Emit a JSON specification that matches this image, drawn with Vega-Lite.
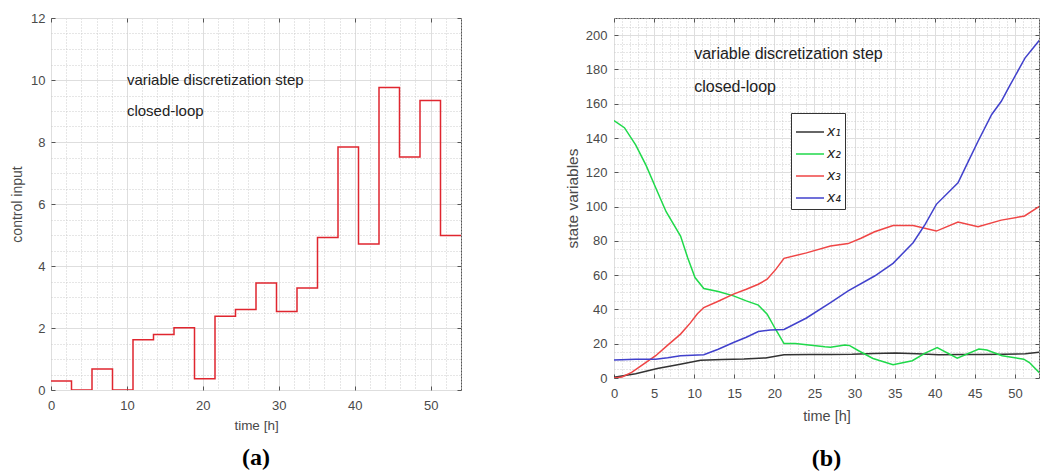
{
  "$schema": "https://vega.github.io/schema/vega-lite/v6.json",
  "background": "white",
  "padding": {"left": 10, "top": 11, "right": 0, "bottom": 0},
  "spacing": 102,
  "resolve": {"legend": {"color": "independent"}},
  "datasets": {
    "control": [
      {"t": 0, "u": 0.29}, {"t": 2.7, "u": 0}, {"t": 5.4, "u": 0.68}, {"t": 8.1, "u": 0},
      {"t": 10.8, "u": 1.62}, {"t": 13.5, "u": 1.79}, {"t": 16.2, "u": 2.01}, {"t": 18.9, "u": 0.36},
      {"t": 21.6, "u": 2.38}, {"t": 24.3, "u": 2.6}, {"t": 27, "u": 3.45}, {"t": 29.7, "u": 2.53},
      {"t": 32.4, "u": 3.29}, {"t": 35.1, "u": 4.92}, {"t": 37.8, "u": 7.84}, {"t": 40.5, "u": 4.71},
      {"t": 43.2, "u": 9.76}, {"t": 45.9, "u": 7.52}, {"t": 48.6, "u": 9.34}, {"t": 51.3, "u": 4.98},
      {"t": 54, "u": 4.98}
    ],
    "textA": [
      {"t": 10, "v": 10, "label": "variable discretization step"},
      {"t": 10, "v": 9, "label": "closed-loop"}
    ],
    "textB": [
      {"t": 10, "v": 189, "label": "variable discretization step"},
      {"t": 10, "v": 169.5, "label": "closed-loop"}
    ],
    "states": [
      {"s": "x₁", "t": 0, "v": 0.5}, {"s": "x₁", "t": 2.7, "v": 2.5}, {"s": "x₁", "t": 5.4, "v": 5.6}, {"s": "x₁", "t": 8.1, "v": 7.9},
      {"s": "x₁", "t": 10.8, "v": 10.4}, {"s": "x₁", "t": 13.5, "v": 10.8}, {"s": "x₁", "t": 16.2, "v": 11.1}, {"s": "x₁", "t": 18.9, "v": 11.7},
      {"s": "x₁", "t": 21.2, "v": 13.6}, {"s": "x₁", "t": 24.3, "v": 13.7}, {"s": "x₁", "t": 27, "v": 13.7}, {"s": "x₁", "t": 29.7, "v": 13.8},
      {"s": "x₁", "t": 32.4, "v": 14.3}, {"s": "x₁", "t": 35.1, "v": 14.6}, {"s": "x₁", "t": 37.8, "v": 14.2}, {"s": "x₁", "t": 40.5, "v": 13.6},
      {"s": "x₁", "t": 43.2, "v": 13.7}, {"s": "x₁", "t": 45.9, "v": 13.7}, {"s": "x₁", "t": 48.6, "v": 13.8}, {"s": "x₁", "t": 51.3, "v": 14.1},
      {"s": "x₁", "t": 53, "v": 15}, {"s": "x₁", "t": 54, "v": 15.5},

      {"s": "x₂", "t": 0, "v": 150.2}, {"s": "x₂", "t": 1.3, "v": 146}, {"s": "x₂", "t": 2.7, "v": 136}, {"s": "x₂", "t": 4, "v": 124},
      {"s": "x₂", "t": 5.2, "v": 111}, {"s": "x₂", "t": 6.5, "v": 97}, {"s": "x₂", "t": 8.3, "v": 82.8}, {"s": "x₂", "t": 9.2, "v": 70},
      {"s": "x₂", "t": 10.1, "v": 58.6}, {"s": "x₂", "t": 11.2, "v": 52.2}, {"s": "x₂", "t": 13, "v": 50.5}, {"s": "x₂", "t": 14.9, "v": 47.9},
      {"s": "x₂", "t": 16.5, "v": 45}, {"s": "x₂", "t": 18, "v": 42.5}, {"s": "x₂", "t": 19.1, "v": 37.2}, {"s": "x₂", "t": 20.2, "v": 28},
      {"s": "x₂", "t": 21.2, "v": 20.1}, {"s": "x₂", "t": 22.6, "v": 20.1}, {"s": "x₂", "t": 24.3, "v": 19.3}, {"s": "x₂", "t": 26.3, "v": 18.2},
      {"s": "x₂", "t": 27, "v": 17.9}, {"s": "x₂", "t": 28.8, "v": 19.3}, {"s": "x₂", "t": 29.4, "v": 18.9}, {"s": "x₂", "t": 30.5, "v": 15.9},
      {"s": "x₂", "t": 32.3, "v": 11.4}, {"s": "x₂", "t": 34.8, "v": 7.8}, {"s": "x₂", "t": 37.2, "v": 10.1}, {"s": "x₂", "t": 38.8, "v": 14.5},
      {"s": "x₂", "t": 40.3, "v": 17.8}, {"s": "x₂", "t": 42.8, "v": 11.6}, {"s": "x₂", "t": 45.5, "v": 16.9}, {"s": "x₂", "t": 46.5, "v": 16.3},
      {"s": "x₂", "t": 48.4, "v": 13}, {"s": "x₂", "t": 51.1, "v": 11}, {"s": "x₂", "t": 51.8, "v": 9}, {"s": "x₂", "t": 53, "v": 3.3},
      {"s": "x₂", "t": 54, "v": 0.5},

      {"s": "x₃", "t": 0, "v": 0}, {"s": "x₃", "t": 1, "v": 0.6}, {"s": "x₃", "t": 2.2, "v": 3.3}, {"s": "x₃", "t": 3.5, "v": 7.5},
      {"s": "x₃", "t": 5.2, "v": 13}, {"s": "x₃", "t": 6.7, "v": 19.2}, {"s": "x₃", "t": 8.3, "v": 25.6}, {"s": "x₃", "t": 9.5, "v": 32},
      {"s": "x₃", "t": 10.4, "v": 37.5}, {"s": "x₃", "t": 11.2, "v": 41.1}, {"s": "x₃", "t": 13, "v": 44.8}, {"s": "x₃", "t": 14.9, "v": 48.9},
      {"s": "x₃", "t": 16.5, "v": 51.8}, {"s": "x₃", "t": 18, "v": 54.7}, {"s": "x₃", "t": 19.1, "v": 57.6}, {"s": "x₃", "t": 20.2, "v": 63.5},
      {"s": "x₃", "t": 21.2, "v": 69.8}, {"s": "x₃", "t": 24, "v": 73}, {"s": "x₃", "t": 27, "v": 77}, {"s": "x₃", "t": 29.2, "v": 78.4},
      {"s": "x₃", "t": 30.8, "v": 81.5}, {"s": "x₃", "t": 32.5, "v": 85.3}, {"s": "x₃", "t": 34.8, "v": 89}, {"s": "x₃", "t": 37.3, "v": 89},
      {"s": "x₃", "t": 40.2, "v": 85.7}, {"s": "x₃", "t": 42.9, "v": 91}, {"s": "x₃", "t": 45.4, "v": 88.3}, {"s": "x₃", "t": 48.3, "v": 92.1},
      {"s": "x₃", "t": 51.2, "v": 94.5}, {"s": "x₃", "t": 53.1, "v": 100.3}, {"s": "x₃", "t": 54, "v": 103},

      {"s": "x₄", "t": 0, "v": 10.5}, {"s": "x₄", "t": 2.7, "v": 10.9}, {"s": "x₄", "t": 5.2, "v": 10.9}, {"s": "x₄", "t": 6.7, "v": 11.8},
      {"s": "x₄", "t": 8.3, "v": 13}, {"s": "x₄", "t": 11.2, "v": 13.6}, {"s": "x₄", "t": 13, "v": 16.8}, {"s": "x₄", "t": 14.9, "v": 20.7},
      {"s": "x₄", "t": 16.5, "v": 23.8}, {"s": "x₄", "t": 18, "v": 27.1}, {"s": "x₄", "t": 19.5, "v": 28}, {"s": "x₄", "t": 21.2, "v": 28.3},
      {"s": "x₄", "t": 24, "v": 35}, {"s": "x₄", "t": 27, "v": 44}, {"s": "x₄", "t": 29.2, "v": 50.8}, {"s": "x₄", "t": 32.5, "v": 59.5},
      {"s": "x₄", "t": 34.8, "v": 66.9}, {"s": "x₄", "t": 37.3, "v": 78.9}, {"s": "x₄", "t": 38.8, "v": 89.6}, {"s": "x₄", "t": 40.2, "v": 101.3},
      {"s": "x₄", "t": 42.9, "v": 113.9}, {"s": "x₄", "t": 44.2, "v": 126.5}, {"s": "x₄", "t": 45.4, "v": 138.1}, {"s": "x₄", "t": 47.1, "v": 153.7},
      {"s": "x₄", "t": 48.3, "v": 161.4}, {"s": "x₄", "t": 49.2, "v": 169.2}, {"s": "x₄", "t": 51.25, "v": 186.6}, {"s": "x₄", "t": 53.1, "v": 197.3},
      {"s": "x₄", "t": 54, "v": 201}
    ]
  },
  "config": {
    "view": {"stroke": "#555555", "strokeWidth": 1},
    "font": "Liberation Sans",
    "axis": {
      "domain": false,
      "labelFont": "Liberation Sans",
      "titleFont": "Liberation Sans",
      "titleFontWeight": "normal",
      "labelColor": "#4a4a4a",
      "titleColor": "#4a4a4a",
      "labelFontSize": 13,
      "tickColor": "#555555",
      "tickSize": -4,
      "tickWidth": 1,
      "labelFlush": false,
      "labelOverlap": false,
      "format": "~g"
    }
  },
  "hconcat": [
    {
      "width": 410,
      "height": 372,
      "title": {"text": "(a)", "orient": "bottom", "font": "Liberation Serif", "fontSize": 24, "fontWeight": "bold", "color": "#000000", "offset": 14},
      "layer": [
        {
          "data": {"name": "control"},
          "mark": {"type": "line", "interpolate": "step-after", "color": "#e0262f", "strokeWidth": 1.5, "clip": true},
          "encoding": {
            "x": {"field": "t", "type": "quantitative", "scale": {"domain": [0, 54], "nice": false, "zero": false},
              "axis": {"orient": "bottom", "values": [0,2,4,6,8,10,12,14,16,18,20,22,24,26,28,30,32,34,36,38,40,42,44,46,48,50,52,54],
                "grid": true,
                "gridColor": {"condition": {"test": "datum.value % 10 === 0", "value": "#dedede"}, "value": "#cccccc"},
                "gridDash": {"condition": {"test": "datum.value % 10 === 0", "value": []}, "value": [1, 2]},
                "tickOpacity": {"condition": {"test": "datum.value % 10 === 0", "value": 1}, "value": 0},
                "labelExpr": "datum.value % 10 === 0 ? datum.label : ''",
                "labelPadding": 13, "title": "time [h]", "titleFontSize": 13.5, "titlePadding": 6}},
            "y": {"field": "u", "type": "quantitative", "scale": {"domain": [0, 12], "nice": false},
              "axis": {"orient": "left", "values": [0,0.5,1,1.5,2,2.5,3,3.5,4,4.5,5,5.5,6,6.5,7,7.5,8,8.5,9,9.5,10,10.5,11,11.5,12],
                "grid": true,
                "gridColor": {"condition": {"test": "datum.value % 2 === 0", "value": "#dedede"}, "value": "#cccccc"},
                "gridDash": {"condition": {"test": "datum.value % 2 === 0", "value": []}, "value": [1, 2]},
                "tickOpacity": {"condition": {"test": "datum.value % 2 === 0", "value": 1}, "value": 0},
                "labelExpr": "datum.value % 2 === 0 ? datum.label : ''",
                "labelPadding": 10, "title": "control input", "titleFontSize": 14, "titlePadding": 6}}
          }
        },
        {
          "data": {"name": "textA"},
          "mark": {"type": "text", "align": "left", "baseline": "middle", "fontSize": 15, "color": "#222222", "font": "Liberation Sans"},
          "encoding": {
            "x": {"field": "t", "type": "quantitative",
              "axis": {"orient": "top", "values": [0,10,20,30,40,50], "grid": false, "labels": false, "title": null}},
            "y": {"field": "v", "type": "quantitative",
              "axis": {"orient": "right", "values": [0,2,4,6,8,10,12], "grid": false, "labels": false, "title": null}},
            "text": {"field": "label"}
          }
        }
      ]
    },
    {
      "width": 425,
      "height": 360,
      "title": {"text": "(b)", "orient": "bottom", "font": "Liberation Serif", "fontSize": 24, "fontWeight": "bold", "color": "#000000", "offset": 24},
      "layer": [
        {
          "data": {"name": "states"},
          "mark": {"type": "line", "strokeWidth": 1.5, "clip": true},
          "encoding": {
            "x": {"field": "t", "type": "quantitative", "scale": {"domain": [0, 53], "nice": false, "zero": false},
              "axis": {"orient": "bottom", "values": [0,1,2,3,4,5,6,7,8,9,10,11,12,13,14,15,16,17,18,19,20,21,22,23,24,25,26,27,28,29,30,31,32,33,34,35,36,37,38,39,40,41,42,43,44,45,46,47,48,49,50,51,52,53],
                "grid": true,
                "gridColor": {"condition": {"test": "datum.value % 5 === 0", "value": "#dedede"}, "value": "#cccccc"},
                "gridDash": {"condition": {"test": "datum.value % 5 === 0", "value": []}, "value": [1, 2]},
                "tickOpacity": {"condition": {"test": "datum.value % 5 === 0", "value": 1}, "value": 0},
                "labelExpr": "datum.value % 5 === 0 ? datum.label : ''",
                "labelPadding": 13, "title": "time [h]", "titleFontSize": 14.5, "titlePadding": 9}},
            "y": {"field": "v", "type": "quantitative", "scale": {"domain": [0, 210], "nice": false},
              "axis": {"orient": "left", "values": [0,5,10,15,20,25,30,35,40,45,50,55,60,65,70,75,80,85,90,95,100,105,110,115,120,125,130,135,140,145,150,155,160,165,170,175,180,185,190,195,200,205,210],
                "grid": true,
                "gridColor": {"condition": {"test": "datum.value % 20 === 0", "value": "#dedede"}, "value": "#cccccc"},
                "gridDash": {"condition": {"test": "datum.value % 20 === 0", "value": []}, "value": [1, 2]},
                "tickOpacity": {"condition": {"test": "datum.value % 20 === 0", "value": 1}, "value": 0},
                "labelExpr": "datum.value % 20 === 0 ? datum.label : ''",
                "labelPadding": 11, "title": "state variables", "titleFontSize": 15.5, "titlePadding": 5}},
            "color": {"field": "s", "type": "nominal",
              "scale": {"domain": ["x₁", "x₂", "x₃", "x₄"], "range": ["#333333", "#1fd94a", "#ef4545", "#4141cc"]},
              "legend": {"orient": "none", "legendX": 177, "legendY": 95, "title": null,
                "fillColor": "#ffffff", "strokeColor": "#333333", "padding": 4,
                "symbolType": "stroke", "symbolSize": 784, "symbolStrokeWidth": 1.5,
                "labelFont": "DejaVu Sans", "labelFontStyle": "italic", "labelFontSize": 14, "labelColor": "#222222",
                "rowPadding": -3, "labelOffset": 2}}
          }
        },
        {
          "data": {"name": "textB"},
          "mark": {"type": "text", "align": "left", "baseline": "middle", "fontSize": 16, "color": "#222222", "font": "Liberation Sans"},
          "encoding": {
            "x": {"field": "t", "type": "quantitative",
              "axis": {"orient": "top", "values": [0,5,10,15,20,25,30,35,40,45,50], "grid": false, "labels": false, "title": null}},
            "y": {"field": "v", "type": "quantitative",
              "axis": {"orient": "right", "values": [0,20,40,60,80,100,120,140,160,180,200], "grid": false, "labels": false, "title": null}},
            "text": {"field": "label"}
          }
        }
      ]
    }
  ]
}
